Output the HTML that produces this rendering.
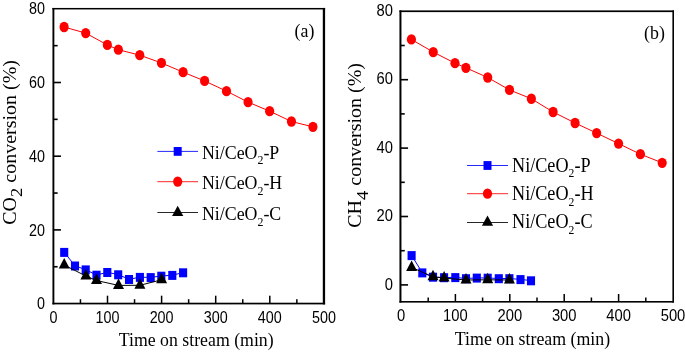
<!DOCTYPE html>
<html><head><meta charset="utf-8"><style>
html,body{margin:0;padding:0;background:#fff;width:685px;height:352px;overflow:hidden}
svg{display:block}
text{-webkit-font-smoothing:antialiased}
svg{will-change:transform}
.tk{font-family:"Liberation Sans",sans-serif;font-size:16.4px;fill:#000}
.ti{font-family:"Liberation Serif",serif;font-size:20px;fill:#000}
.lg{font-family:"Liberation Serif",serif;font-size:19.5px;fill:#000}
.sub{font-size:13px}
.yt{font-size:20px}
.ysub{font-size:18.5px}
</style></head><body>
<svg width="685" height="352" viewBox="0 0 685 352">
<polyline points="64.20,252.20 75.00,265.80 85.70,269.70 96.50,275.00 107.30,272.30 118.20,274.60 129.00,279.30 139.90,277.20 150.70,277.40 161.30,276.00 172.30,275.20 183.10,272.60" fill="none" stroke="#0000ff" stroke-width="1"/>
<rect x="60.15" y="247.90" width="8.1" height="9" fill="#0000ff"/>
<rect x="70.95" y="261.50" width="8.1" height="9" fill="#0000ff"/>
<rect x="81.65" y="265.40" width="8.1" height="9" fill="#0000ff"/>
<rect x="92.45" y="270.70" width="8.1" height="9" fill="#0000ff"/>
<rect x="103.25" y="268.00" width="8.1" height="9" fill="#0000ff"/>
<rect x="114.15" y="270.30" width="8.1" height="9" fill="#0000ff"/>
<rect x="124.95" y="275.00" width="8.1" height="9" fill="#0000ff"/>
<rect x="135.85" y="272.90" width="8.1" height="9" fill="#0000ff"/>
<rect x="146.65" y="273.10" width="8.1" height="9" fill="#0000ff"/>
<rect x="157.25" y="271.70" width="8.1" height="9" fill="#0000ff"/>
<rect x="168.25" y="270.90" width="8.1" height="9" fill="#0000ff"/>
<rect x="179.05" y="268.30" width="8.1" height="9" fill="#0000ff"/>
<polyline points="64.10,27.00 85.70,33.10 107.35,44.95 118.35,49.70 139.75,55.15 161.45,62.95 183.10,72.15 204.60,80.95 226.50,91.15 248.05,102.10 269.65,111.15 291.45,121.50 312.95,126.85" fill="none" stroke="#ff0000" stroke-width="1"/>
<ellipse cx="64.10" cy="27.00" rx="4.6" ry="5.15" fill="#ff0000"/>
<ellipse cx="85.70" cy="33.10" rx="4.6" ry="5.15" fill="#ff0000"/>
<ellipse cx="107.35" cy="44.95" rx="4.6" ry="5.15" fill="#ff0000"/>
<ellipse cx="118.35" cy="49.70" rx="4.6" ry="5.15" fill="#ff0000"/>
<ellipse cx="139.75" cy="55.15" rx="4.6" ry="5.15" fill="#ff0000"/>
<ellipse cx="161.45" cy="62.95" rx="4.6" ry="5.15" fill="#ff0000"/>
<ellipse cx="183.10" cy="72.15" rx="4.6" ry="5.15" fill="#ff0000"/>
<ellipse cx="204.60" cy="80.95" rx="4.6" ry="5.15" fill="#ff0000"/>
<ellipse cx="226.50" cy="91.15" rx="4.6" ry="5.15" fill="#ff0000"/>
<ellipse cx="248.05" cy="102.10" rx="4.6" ry="5.15" fill="#ff0000"/>
<ellipse cx="269.65" cy="111.15" rx="4.6" ry="5.15" fill="#ff0000"/>
<ellipse cx="291.45" cy="121.50" rx="4.6" ry="5.15" fill="#ff0000"/>
<ellipse cx="312.95" cy="126.85" rx="4.6" ry="5.15" fill="#ff0000"/>
<polyline points="64.20,265.00 85.90,276.00 96.50,280.50 118.50,285.40 139.90,285.30 161.60,279.80" fill="none" stroke="#000000" stroke-width="1"/>
<polygon points="64.20,258.00 69.70,268.50 58.70,268.50" fill="#000"/>
<polygon points="85.90,269.00 91.40,279.50 80.40,279.50" fill="#000"/>
<polygon points="96.50,273.50 102.00,284.00 91.00,284.00" fill="#000"/>
<polygon points="118.50,278.40 124.00,288.90 113.00,288.90" fill="#000"/>
<polygon points="139.90,278.30 145.40,288.80 134.40,288.80" fill="#000"/>
<polygon points="161.60,272.80 167.10,283.30 156.10,283.30" fill="#000"/>
<rect x="52.45" y="7.95" width="1.90" height="296.45" fill="#000"/>
<rect x="322.8" y="7.95" width="2.30" height="296.45" fill="#000"/>
<rect x="52.45" y="7.95" width="272.65" height="1.50" fill="#000"/>
<rect x="52.45" y="302.7" width="272.65" height="1.70" fill="#000"/>
<rect x="79.70" y="299.20" width="1.5" height="4.00" fill="#000"/>
<rect x="106.75" y="295.70" width="1.5" height="7.50" fill="#000"/>
<rect x="133.80" y="299.20" width="1.5" height="4.00" fill="#000"/>
<rect x="160.85" y="295.70" width="1.5" height="7.50" fill="#000"/>
<rect x="187.90" y="299.20" width="1.5" height="4.00" fill="#000"/>
<rect x="214.95" y="295.70" width="1.5" height="7.50" fill="#000"/>
<rect x="242.00" y="299.20" width="1.5" height="4.00" fill="#000"/>
<rect x="269.05" y="295.70" width="1.5" height="7.50" fill="#000"/>
<rect x="296.10" y="299.20" width="1.5" height="4.00" fill="#000"/>
<rect x="53.85" y="265.95" width="3.80" height="1.6" fill="#000"/>
<rect x="53.85" y="229.10" width="7.10" height="1.6" fill="#000"/>
<rect x="53.85" y="192.25" width="3.80" height="1.6" fill="#000"/>
<rect x="53.85" y="155.40" width="7.10" height="1.6" fill="#000"/>
<rect x="53.85" y="118.55" width="3.80" height="1.6" fill="#000"/>
<rect x="53.85" y="81.70" width="7.10" height="1.6" fill="#000"/>
<rect x="53.85" y="44.85" width="3.80" height="1.6" fill="#000"/>
<text transform="translate(53.40,323.00) scale(0.875,1)" text-anchor="middle" class="tk">0</text>
<text transform="translate(107.50,323.00) scale(0.875,1)" text-anchor="middle" class="tk">100</text>
<text transform="translate(161.60,323.00) scale(0.875,1)" text-anchor="middle" class="tk">200</text>
<text transform="translate(215.70,323.00) scale(0.875,1)" text-anchor="middle" class="tk">300</text>
<text transform="translate(269.80,323.00) scale(0.875,1)" text-anchor="middle" class="tk">400</text>
<text transform="translate(323.90,323.00) scale(0.875,1)" text-anchor="middle" class="tk">500</text>
<text transform="translate(45.00,309.20) scale(0.875,1)" text-anchor="end" class="tk">0</text>
<text transform="translate(45.00,235.50) scale(0.875,1)" text-anchor="end" class="tk">20</text>
<text transform="translate(45.00,161.80) scale(0.875,1)" text-anchor="end" class="tk">40</text>
<text transform="translate(45.00,88.10) scale(0.875,1)" text-anchor="end" class="tk">60</text>
<text transform="translate(45.00,14.40) scale(0.875,1)" text-anchor="end" class="tk">80</text>
<polyline points="411.60,255.40 422.30,272.70 433.00,277.00 444.10,277.50 455.30,277.40 466.00,278.50 476.80,277.90 487.70,278.00 498.80,278.50 509.40,278.50 520.50,279.40 531.00,280.60" fill="none" stroke="#0000ff" stroke-width="1"/>
<rect x="407.55" y="251.10" width="8.1" height="9" fill="#0000ff"/>
<rect x="418.25" y="268.40" width="8.1" height="9" fill="#0000ff"/>
<rect x="428.95" y="272.70" width="8.1" height="9" fill="#0000ff"/>
<rect x="440.05" y="273.20" width="8.1" height="9" fill="#0000ff"/>
<rect x="451.25" y="273.10" width="8.1" height="9" fill="#0000ff"/>
<rect x="461.95" y="274.20" width="8.1" height="9" fill="#0000ff"/>
<rect x="472.75" y="273.60" width="8.1" height="9" fill="#0000ff"/>
<rect x="483.65" y="273.70" width="8.1" height="9" fill="#0000ff"/>
<rect x="494.75" y="274.20" width="8.1" height="9" fill="#0000ff"/>
<rect x="505.35" y="274.20" width="8.1" height="9" fill="#0000ff"/>
<rect x="516.45" y="275.10" width="8.1" height="9" fill="#0000ff"/>
<rect x="526.95" y="276.30" width="8.1" height="9" fill="#0000ff"/>
<polyline points="411.40,39.40 433.25,52.10 455.00,63.20 465.90,67.80 487.70,77.50 509.50,89.90 531.35,98.75 553.10,112.00 575.10,123.00 596.65,133.10 618.55,143.60 640.40,154.20 662.20,162.85" fill="none" stroke="#ff0000" stroke-width="1"/>
<ellipse cx="411.40" cy="39.40" rx="4.6" ry="5.15" fill="#ff0000"/>
<ellipse cx="433.25" cy="52.10" rx="4.6" ry="5.15" fill="#ff0000"/>
<ellipse cx="455.00" cy="63.20" rx="4.6" ry="5.15" fill="#ff0000"/>
<ellipse cx="465.90" cy="67.80" rx="4.6" ry="5.15" fill="#ff0000"/>
<ellipse cx="487.70" cy="77.50" rx="4.6" ry="5.15" fill="#ff0000"/>
<ellipse cx="509.50" cy="89.90" rx="4.6" ry="5.15" fill="#ff0000"/>
<ellipse cx="531.35" cy="98.75" rx="4.6" ry="5.15" fill="#ff0000"/>
<ellipse cx="553.10" cy="112.00" rx="4.6" ry="5.15" fill="#ff0000"/>
<ellipse cx="575.10" cy="123.00" rx="4.6" ry="5.15" fill="#ff0000"/>
<ellipse cx="596.65" cy="133.10" rx="4.6" ry="5.15" fill="#ff0000"/>
<ellipse cx="618.55" cy="143.60" rx="4.6" ry="5.15" fill="#ff0000"/>
<ellipse cx="640.40" cy="154.20" rx="4.6" ry="5.15" fill="#ff0000"/>
<ellipse cx="662.20" cy="162.85" rx="4.6" ry="5.15" fill="#ff0000"/>
<polyline points="411.60,267.40 433.00,276.80 444.10,278.10 466.00,280.00 487.70,279.80 509.40,280.00" fill="none" stroke="#000000" stroke-width="1"/>
<polygon points="411.60,260.40 417.10,270.90 406.10,270.90" fill="#000"/>
<polygon points="433.00,269.80 438.50,280.30 427.50,280.30" fill="#000"/>
<polygon points="444.10,271.10 449.60,281.60 438.60,281.60" fill="#000"/>
<polygon points="466.00,273.00 471.50,283.50 460.50,283.50" fill="#000"/>
<polygon points="487.70,272.80 493.20,283.30 482.20,283.30" fill="#000"/>
<polygon points="509.40,273.00 514.90,283.50 503.90,283.50" fill="#000"/>
<rect x="399.45" y="10.4" width="2.00" height="292.20" fill="#000"/>
<rect x="672.4" y="10.4" width="1.60" height="292.20" fill="#000"/>
<rect x="399.45" y="10.4" width="274.55" height="1.70" fill="#000"/>
<rect x="399.45" y="301.0" width="274.55" height="1.60" fill="#000"/>
<rect x="427.45" y="297.50" width="1.5" height="4.00" fill="#000"/>
<rect x="454.65" y="294.00" width="1.5" height="7.50" fill="#000"/>
<rect x="481.85" y="297.50" width="1.5" height="4.00" fill="#000"/>
<rect x="509.05" y="294.00" width="1.5" height="7.50" fill="#000"/>
<rect x="536.25" y="297.50" width="1.5" height="4.00" fill="#000"/>
<rect x="563.45" y="294.00" width="1.5" height="7.50" fill="#000"/>
<rect x="590.65" y="297.50" width="1.5" height="4.00" fill="#000"/>
<rect x="617.85" y="294.00" width="1.5" height="7.50" fill="#000"/>
<rect x="645.05" y="297.50" width="1.5" height="4.00" fill="#000"/>
<rect x="400.95" y="284.10" width="7.10" height="1.6" fill="#000"/>
<rect x="400.95" y="249.90" width="3.80" height="1.6" fill="#000"/>
<rect x="400.95" y="215.70" width="7.10" height="1.6" fill="#000"/>
<rect x="400.95" y="181.50" width="3.80" height="1.6" fill="#000"/>
<rect x="400.95" y="147.30" width="7.10" height="1.6" fill="#000"/>
<rect x="400.95" y="113.10" width="3.80" height="1.6" fill="#000"/>
<rect x="400.95" y="78.90" width="7.10" height="1.6" fill="#000"/>
<rect x="400.95" y="44.70" width="3.80" height="1.6" fill="#000"/>
<text transform="translate(401.00,321.20) scale(0.9,1)" text-anchor="middle" class="tk">0</text>
<text transform="translate(455.40,321.20) scale(0.9,1)" text-anchor="middle" class="tk">100</text>
<text transform="translate(509.80,321.20) scale(0.9,1)" text-anchor="middle" class="tk">200</text>
<text transform="translate(564.20,321.20) scale(0.9,1)" text-anchor="middle" class="tk">300</text>
<text transform="translate(618.60,321.20) scale(0.9,1)" text-anchor="middle" class="tk">400</text>
<text transform="translate(673.00,321.20) scale(0.9,1)" text-anchor="middle" class="tk">500</text>
<text transform="translate(393.00,289.50) scale(0.9,1)" text-anchor="end" class="tk">0</text>
<text transform="translate(393.00,221.10) scale(0.9,1)" text-anchor="end" class="tk">20</text>
<text transform="translate(393.00,152.70) scale(0.9,1)" text-anchor="end" class="tk">40</text>
<text transform="translate(393.00,84.30) scale(0.9,1)" text-anchor="end" class="tk">60</text>
<text transform="translate(393.00,15.90) scale(0.9,1)" text-anchor="end" class="tk">80</text>
<line x1="157.4" y1="151.4" x2="198" y2="151.4" stroke="#0000ff" stroke-width="0.85"/>
<rect x="173.7" y="147.0" width="8" height="8.8" fill="#0000ff"/>
<text transform="translate(202.0,158.9) scale(0.915,1)" class="lg" style="font-size:19.5px">Ni/CeO<tspan class="sub" dy="5.5">2</tspan><tspan dy="-5.5">-P</tspan></text>
<line x1="157.4" y1="181.7" x2="198" y2="181.7" stroke="#ff0000" stroke-width="0.85"/>
<ellipse cx="177.7" cy="181.6" rx="4.6" ry="5.15" fill="#ff0000"/>
<text transform="translate(202.0,189.2) scale(0.915,1)" class="lg" style="font-size:19.5px">Ni/CeO<tspan class="sub" dy="5.5">2</tspan><tspan dy="-5.5">-H</tspan></text>
<line x1="157.4" y1="212.5" x2="198" y2="212.5" stroke="#000" stroke-width="0.85"/>
<polygon points="177.7,205.70 183.30,215.90 172.10,215.90" fill="#000"/>
<text transform="translate(202.0,220.1) scale(0.915,1)" class="lg" style="font-size:19.5px">Ni/CeO<tspan class="sub" dy="5.5">2</tspan><tspan dy="-5.5">-C</tspan></text>
<line x1="467" y1="165.5" x2="508" y2="165.5" stroke="#0000ff" stroke-width="0.85"/>
<rect x="483.5" y="161.1" width="8" height="8.8" fill="#0000ff"/>
<text transform="translate(512.0,171.7) scale(0.896,1)" class="lg" style="font-size:20.3px">Ni/CeO<tspan class="sub" dy="5.5">2</tspan><tspan dy="-5.5">-P</tspan></text>
<line x1="467" y1="193.7" x2="508" y2="193.7" stroke="#ff0000" stroke-width="0.85"/>
<ellipse cx="487.5" cy="193.7" rx="4.6" ry="5.15" fill="#ff0000"/>
<text transform="translate(512.0,200.1) scale(0.896,1)" class="lg" style="font-size:20.3px">Ni/CeO<tspan class="sub" dy="5.5">2</tspan><tspan dy="-5.5">-H</tspan></text>
<line x1="467" y1="222.5" x2="508" y2="222.5" stroke="#000" stroke-width="0.85"/>
<polygon points="487.5,215.60 493.10,225.80 481.90,225.80" fill="#000"/>
<text transform="translate(512.0,228.4) scale(0.896,1)" class="lg" style="font-size:20.3px">Ni/CeO<tspan class="sub" dy="5.5">2</tspan><tspan dy="-5.5">-C</tspan></text>
<text transform="translate(196.2,345.9) scale(0.912,1)" text-anchor="middle" class="ti" style="font-size:19.5px">Time on stream (min)</text>
<text transform="translate(532.5,344.8) scale(0.915,1)" text-anchor="middle" class="ti" style="font-size:19.5px">Time on stream (min)</text>
<text transform="translate(15.7,142.4) scale(0.89,1) rotate(-90)" text-anchor="middle" class="ti yt">CO<tspan class="ysub" dy="7.3">2</tspan><tspan dy="-7.3"> conversion (%)</tspan></text>
<text transform="translate(360.8,145.4) scale(0.89,1) rotate(-90)" text-anchor="middle" class="ti yt">CH<tspan class="ysub" dy="8">4</tspan><tspan dy="-8"> conversion (%)</tspan></text>
<text transform="translate(304.5,36.9) scale(0.93,1)" text-anchor="middle" class="ti" style="font-size:19.2px">(a)</text>
<text transform="translate(654.5,39.1) scale(0.93,1)" text-anchor="middle" class="ti" style="font-size:19.2px">(b)</text>
</svg>
</body></html>
